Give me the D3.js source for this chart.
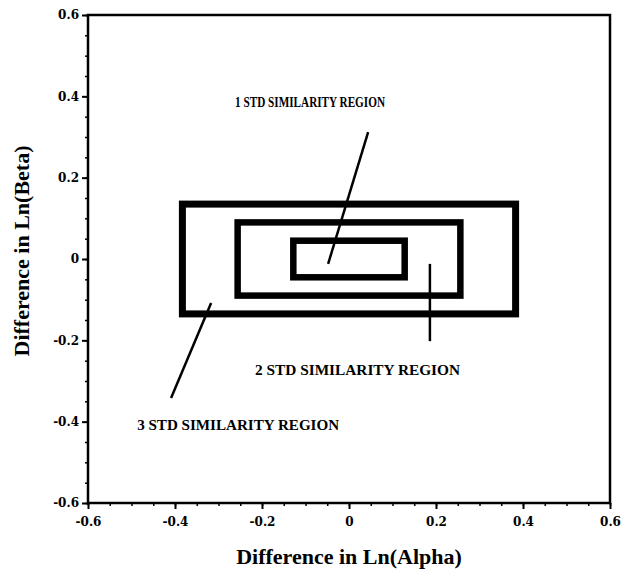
<!DOCTYPE html>
<html>
<head>
<meta charset="utf-8">
<script src="https://cdn.jsdelivr.net/npm/d3@7"></script>
<style>
  body { margin: 0; background: #fff; }
  text { font-family: "Liberation Serif", "DejaVu Serif", serif; font-weight: bold; fill: #000; }
  .tick text { font-family: "DejaVu Serif", serif; font-weight: bold; font-size: 12px; }
</style>
</head>
<body>
<svg width="628" height="575"></svg>
<script>
// similarity regions: half-widths in ln(alpha) and ln(beta)
const levels = ["1 STD", "2 STD", "3 STD"];
const alphaHalf = [0.128, 0.256, 0.383];
const betaHalf = [0.045, 0.09, 0.135];

// leader lines, [x1, y1, x2, y2] in data units
const leaders = [
    [0.044, 0.312, -0.048, -0.012],
    [0.186, -0.012, 0.186, -0.202],
    [-0.317, -0.108, -0.409, -0.342]
];
// label anchors (start of text, baseline) in data units
const labelPos = [[-0.262, 0.374], [-0.216, -0.285], [-0.487, -0.42]];
const labelWidth = [150, 205, 202];

const majorTicks = [-0.6, -0.4, -0.2, 0, 0.2, 0.4, 0.6];
const tickLabels = ["-0.6", "-0.4", "-0.2", "0", "0.2", "0.4", "0.6"];
const minorTicks = d3.range(-0.6, 0.6001, 0.05);

const svg = d3.select("svg");

const x = d3.scaleLinear().domain([-0.6, 0.6]).range([88, 610]);
const y = d3.scaleLinear().domain([-0.6, 0.6]).range([503, 15]);

// frame
svg.append("rect")
   .attr("x", x(-0.6)).attr("y", y(0.6))
   .attr("width", x(0.6) - x(-0.6))
   .attr("height", y(-0.6) - y(0.6))
   .attr("fill", "none")
   .attr("stroke", "#000")
   .attr("stroke-width", 2.5);

// minor ticks
const minorX = d3.axisBottom(x).tickValues(minorTicks).tickSize(3).tickFormat("");
const minorY = d3.axisLeft(y).tickValues(minorTicks).tickSize(3).tickFormat("");

svg.append("g").attr("transform", `translate(0,${y(-0.6)})`).call(minorX)
   .call(g => g.select(".domain").remove())
   .selectAll("line").attr("stroke-width", 1.5);
svg.append("g").attr("transform", `translate(${x(-0.6)},0)`).call(minorY)
   .call(g => g.select(".domain").remove())
   .selectAll("line").attr("stroke-width", 1.5);

// major ticks
const xAxis = d3.axisBottom(x).tickValues(majorTicks).tickSize(6).tickPadding(8)
    .tickFormat((d, i) => tickLabels[i]);
const yAxis = d3.axisLeft(y).tickValues(majorTicks).tickSize(6).tickPadding(3)
    .tickFormat((d, i) => tickLabels[i]);

svg.append("g").attr("transform", `translate(0,${y(-0.6)})`).call(xAxis)
   .call(g => g.select(".domain").remove())
   .call(g => g.selectAll("line").attr("stroke-width", 2));

svg.append("g").attr("transform", `translate(${x(-0.6)},0)`).call(yAxis)
   .call(g => g.select(".domain").remove())
   .call(g => g.selectAll("line").attr("stroke-width", 2));

// regions
svg.append("g").selectAll("rect")
   .data(levels)
   .join("rect")
   .attr("x", (d, i) => x(-alphaHalf[i]))
   .attr("y", (d, i) => y(betaHalf[i]))
   .attr("width", (d, i) => x(alphaHalf[i]) - x(-alphaHalf[i]))
   .attr("height", (d, i) => y(-betaHalf[i]) - y(betaHalf[i]))
   .attr("fill", "none")
   .attr("stroke", "#000")
   .attr("stroke-width", (d, i) => i === 2 ? 7 : 6.5);

// leaders
svg.append("g").selectAll("line")
   .data(leaders)
   .join("line")
   .attr("x1", d => x(d[0])).attr("y1", d => y(d[1]))
   .attr("x2", d => x(d[2])).attr("y2", d => y(d[3]))
   .attr("stroke", "#000")
   .attr("stroke-width", 2.5);

// region labels
svg.append("g").selectAll("text")
   .data(levels)
   .join("text")
   .attr("x", (d, i) => x(labelPos[i][0]))
   .attr("y", (d, i) => y(labelPos[i][1]))
   .attr("font-size", 14.5)
   .attr("textLength", (d, i) => labelWidth[i])
   .attr("lengthAdjust", "spacingAndGlyphs")
   .text(d => d + " SIMILARITY REGION");

// axis titles
svg.append("text")
   .attr("x", (x(-0.6) + x(0.6)) / 2)
   .attr("y", 564)
   .attr("text-anchor", "middle")
   .attr("font-size", 22)
   .text("Difference in Ln(Alpha)");

svg.append("text")
   .attr("transform", `translate(29,${y(0) - 8}) rotate(-90)`)
   .attr("text-anchor", "middle")
   .attr("font-size", 22)
   .text("Difference in Ln(Beta)");
</script>
</body>
</html>
